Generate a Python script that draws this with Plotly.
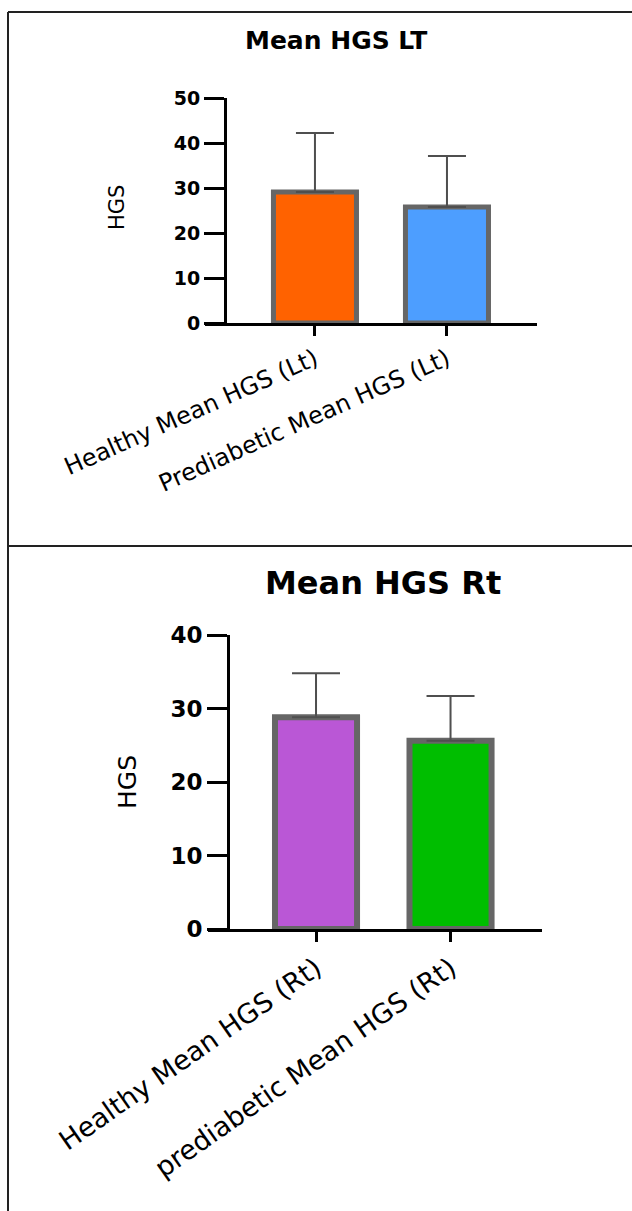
import plotly.graph_objects as go

W, H = 632, 1211

# ---- data ----
lt_categories = ["Healthy Mean HGS (Lt)", "Prediabetic Mean HGS (Lt)"]
lt_means = [29.1, 25.8]
lt_sd = [13.1, 11.3]
lt_colors = ["#FF6200", "#4D9EFF"]
lt_ticks = [0, 10, 20, 30, 40, 50]

rt_categories = ["Healthy Mean HGS (Rt)", "prediabetic Mean HGS (Rt)"]
rt_means = [28.8, 25.6]
rt_sd = [6.0, 6.1]
rt_colors = ["#BA57D6", "#00BE00"]
rt_ticks = [0, 10, 20, 30, 40]


def px_x(x):
    return x / W


def px_y(y):
    return 1 - y / H


FONT = "DejaVu Sans"
EDGE = "#666666"
ERR = "#4f4f4f"

fig = go.Figure()

fig.add_trace(go.Bar(
    x=lt_categories, y=lt_means, width=0.629,
    marker=dict(color=lt_colors, line=dict(color=EDGE, width=5)),
    error_y=dict(type="data", symmetric=False, array=lt_sd, arrayminus=[0, 0],
                 color=ERR, thickness=2, width=19),
    xaxis="x", yaxis="y", showlegend=False,
))
fig.add_trace(go.Bar(
    x=rt_categories, y=rt_means, width=0.61,
    marker=dict(color=rt_colors, line=dict(color=EDGE, width=6)),
    error_y=dict(type="data", symmetric=False, array=rt_sd, arrayminus=[0, 0],
                 color=ERR, thickness=2, width=24),
    xaxis="x2", yaxis="y2", showlegend=False,
))

common_x = dict(showgrid=False, zeroline=False, showline=True, linecolor="black",
                linewidth=3, ticks="outside", tickcolor="black", tickwidth=3,
                ticklen=10, type="category", automargin=False)
common_y = dict(showgrid=False, zeroline=False, showline=True, linecolor="black",
                linewidth=3, ticks="outside", tickcolor="black", tickwidth=3,
                ticklen=20, anchor="free", automargin=False)

fig.update_layout(
    template="none",
    width=W, height=H, autosize=False,
    margin=dict(l=0, r=0, t=0, b=0, pad=0),
    paper_bgcolor="white", plot_bgcolor="rgba(0,0,0,0)",
    xaxis=dict(common_x, domain=[px_x(205), px_x(537)], range=[-0.833, 1.682],
               anchor="y", tickangle=-24,
               tickfont=dict(family=FONT, size=24, color="black")),
    yaxis=dict(common_y, domain=[px_y(323), px_y(98)], range=[0, 50],
               position=px_x(225), tickvals=lt_ticks,
               tickfont=dict(family=FONT, size=19, color="black", weight="bold")),
    xaxis2=dict(common_x, domain=[px_x(208), px_x(542)], range=[-0.803, 1.68],
                anchor="y2", tickangle=-35,
                tickfont=dict(family=FONT, size=27, color="black")),
    yaxis2=dict(common_y, domain=[px_y(929), px_y(635)], range=[0, 40],
                position=px_x(228), tickvals=rt_ticks,
                tickfont=dict(family=FONT, size=23, color="black", weight="bold")),
)

annotations = [
    dict(text="<b>Mean HGS LT</b>", x=px_x(336), y=px_y(40), xref="paper", yref="paper",
         showarrow=False, font=dict(family=FONT, size=25, color="black"),
         xanchor="center", yanchor="middle"),
    dict(text="<b>Mean HGS Rt</b>", x=px_x(383), y=px_y(583), xref="paper", yref="paper",
         showarrow=False, font=dict(family=FONT, size=32, color="black"),
         xanchor="center", yanchor="middle"),
    dict(text="HGS", x=px_x(117), y=px_y(207), xref="paper", yref="paper",
         showarrow=False, textangle=-90, font=dict(family=FONT, size=21, color="black"),
         xanchor="center", yanchor="middle"),
    dict(text="HGS", x=px_x(127), y=px_y(782), xref="paper", yref="paper",
         showarrow=False, textangle=-90, font=dict(family=FONT, size=25, color="black"),
         xanchor="center", yanchor="middle"),
]
fig.update_layout(annotations=annotations)

BORDER = dict(color="#222222", width=2)
shapes = [
    dict(type="line", xref="paper", yref="paper", x0=px_x(8), x1=1, y0=px_y(12), y1=px_y(12), line=BORDER),
    dict(type="line", xref="paper", yref="paper", x0=px_x(8), x1=px_x(8), y0=px_y(12), y1=0, line=BORDER),
    dict(type="line", xref="paper", yref="paper", x0=px_x(8), x1=1, y0=px_y(546), y1=px_y(546), line=BORDER),
]
fig.update_layout(shapes=shapes)

fig.write_html("out.html", config={"displayModeBar": False},
               post_script="document.body.style.margin='0';")
